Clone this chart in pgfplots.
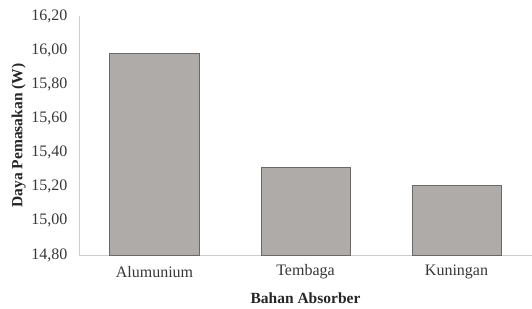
\documentclass[border=0pt]{standalone}
\usepackage{fontspec}
\setmainfont{Liberation Serif}
\usepackage{pgfplots}
\pgfplotsset{compat=1.18}
\definecolor{barfill}{RGB}{174,171,169}
\definecolor{baredge}{RGB}{105,105,105}
\definecolor{axisgray}{RGB}{205,205,205}
\definecolor{txt}{RGB}{55,55,55}
\begin{document}
\begin{tikzpicture}
\path[use as bounding box] (-79pt,-53pt) rectangle (453pt,255pt);
\begin{axis}[
  at={(0pt,0pt)}, anchor=south west,
  scale only axis,
  width=453pt, height=239pt,
  xmin=-0.5, xmax=2.5,
  ymin=14.8, ymax=16.2,
  xtick={0,1,2},
  xticklabels={Alumunium,Tembaga,Kuningan},
  ytick={14.8,15.0,15.2,15.4,15.6,15.8,16.0,16.2},
  /pgf/number format/.cd, use comma, fixed, fixed zerofill, precision=2, assume math mode=true,
  /pgfplots/.cd,
  axis x line*=bottom, axis y line*=left,
  axis line style={axisgray, line width=0.8pt},
  x axis line style={-}, y axis line style={-},
  major tick length=0pt,
  tick label style={font=\fontsize{16}{18}\selectfont, text=txt},
  yticklabel style={anchor=east, xshift=-8pt},
  xticklabel style={anchor=center, yshift=-17pt},
  ylabel={\textbf{Daya Pemasakan (W)}},
  xlabel={\textbf{Bahan Absorber}},
  label style={font=\fontsize{15.5}{17}\selectfont, text=black!85},
  ylabel style={at={(axis description cs:-0.133,0.5)}, anchor=center, rotate=0},
  xlabel style={at={(axis description cs:0.5,-0.18)}, anchor=center},
  ybar, bar width=89pt,
  clip=false,
]
\addplot[fill=barfill, draw=baredge, line width=1pt] coordinates {(0,15.98) (1,15.31) (2,15.21)};
\end{axis}
\end{tikzpicture}
\end{document}
